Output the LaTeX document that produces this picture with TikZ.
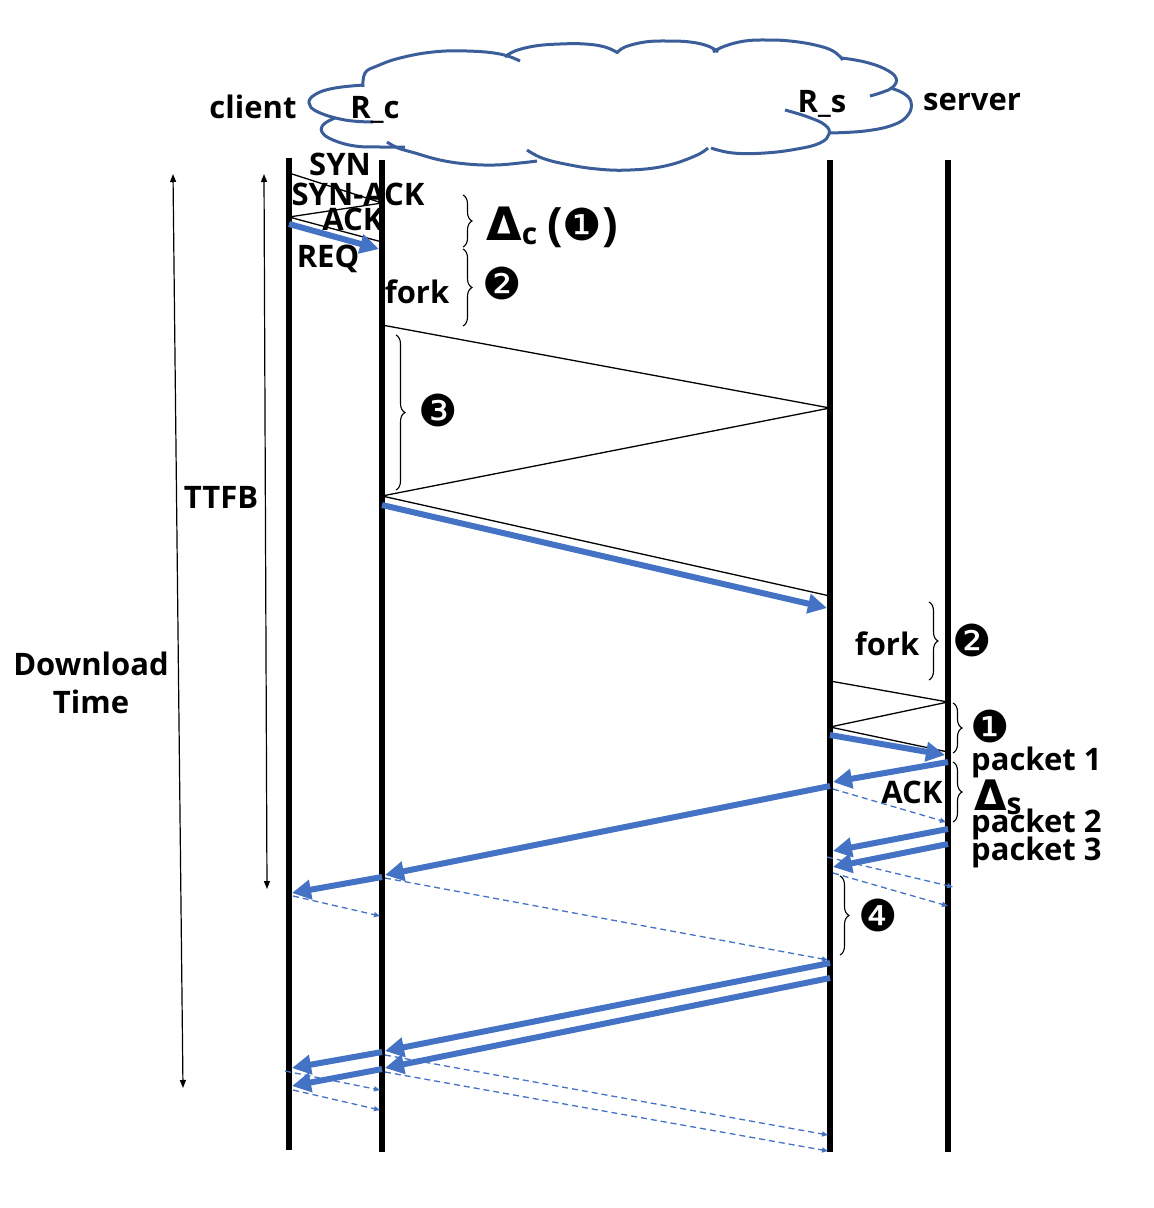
\documentclass[tikz,border=0pt]{standalone}
\usepackage{fontspec}
\setmainfont{Open Sans}
\newfontfamily\dejavu{DejaVu Sans}
\usetikzlibrary{arrows.meta,decorations.pathreplacing}
\definecolor{obl}{HTML}{4472C4}
\definecolor{cloudc}{HTML}{3B5E9A}
\tikzset{
 lbl/.style={font=\bfseries\fontsize{31}{36}\selectfont, inner sep=0, anchor=base},
 vline/.style={line width=6pt},
 thinmsg/.style={line width=1.3pt},
 bigarrow/.style={obl, line width=6pt, -{Triangle[length=19pt,width=19pt]}},
 dasharrow/.style={obl, line width=1.3pt, dash pattern=on 6pt off 4pt, -{Triangle[length=6pt,width=5pt]}},
 brc/.style={decorate, decoration={brace, amplitude=9pt}, line width=1.1pt},
 cloudline/.style={cloudc, line width=3pt},
 timearrow/.style={line width=1.2pt, {Triangle[length=8pt,width=6pt]}-{Triangle[length=8pt,width=6pt]}},
 num/.style={font=\dejavu\fontsize{44}{44}\selectfont, inner sep=0},
}
\begin{document}
\begin{tikzpicture}[x=1pt,y=-1pt]
\useasboundingbox (0,0) rectangle (1154,1208);
% lifeline x positions
\coordinate (C) at (289,0);
\coordinate (RC) at (382,0);
\coordinate (RS) at (830,0);
\coordinate (S) at (948,0);
% lifelines
\draw[vline] (C |- 0,158) -- (C |- 0,1150);
\draw[vline] (RC |- 0,160) -- (RC |- 0,1152);
\draw[vline] (RS |- 0,160) -- (RS |- 0,1152);
\draw[vline] (S |- 0,160) -- (S |- 0,1152);
% cloud
\draw[cloudline] plot[smooth,tension=0.7] coordinates {(373,122) (345,120) (318,112) (309,103) (316,94) (335,88) (364,85)};
\draw[cloudline] plot[smooth,tension=0.7] coordinates {(363,87) (365,73) (377,66) (400,58) (433,52) (467,51) (500,54) (520,61)};
\draw[cloudline] plot[smooth,tension=0.7] coordinates {(505,57) (515,51) (535,46) (560,44) (585,44) (605,47) (618,53)};
\draw[cloudline] plot[smooth,tension=0.7] coordinates {(617,53) (625,47) (645,42) (667,41) (690,42) (708,46) (718,52)};
\draw[cloudline] plot[smooth,tension=0.7] coordinates {(713,52) (725,46) (745,41) (767,40) (790,41) (815,45) (833,51) (843,60)};
\draw[cloudline] plot[smooth,tension=0.7] coordinates {(842,58) (865,62) (885,69) (896,78) (893,87) (883,92) (870,96)};
\draw[cloudline] plot[smooth,tension=0.7] coordinates {(890,88) (903,93) (911,102) (908,115) (893,125) (865,131) (830,133)};
\draw[cloudline] plot[smooth,tension=0.7] coordinates {(785,110) (808,117) (825,125) (829,134) (820,143) (797,149) (765,153) (733,153) (711,148)};
\draw[cloudline] plot[smooth,tension=0.7] coordinates {(708,148) (695,156) (665,166) (630,170) (597,169) (565,164) (542,158) (527,150)};
\draw[cloudline] plot[smooth,tension=0.7] coordinates {(537,161) (520,163) (495,165) (467,164) (440,160) (415,153) (398,148) (387,142)};
\draw[cloudline] plot[smooth,tension=0.7] coordinates {(405,147) (380,147) (355,146) (333,140) (322,132) (324,124) (335,118)};
% top labels
\node[lbl] (lclient) at (253,118) {client};
\node[lbl] (lrc) at (375,118) {R\_c};
\node[lbl] (lrs) at (822,112) {R\_s};
\node[lbl] (lserver) at (972,110) {server};
% time arrows
\coordinate (dt1) at (173,174);
\coordinate (dt2) at (183,1088);
\coordinate (tt1) at (264,174);
\coordinate (tt2) at (267,889);
\draw[timearrow] (dt1) -- (dt2);
\draw[timearrow] (tt1) -- (tt2);
\node[lbl] (lttfb) at (221,508) {TTFB};
\node[lbl] (ldl1) at (91,675) {Download};
\node[lbl] (ldl2) at (91,713) {Time};
% handshake
\draw[thinmsg] (C |- 0,173) -- (RC |- 0,203) -- (C |- 0,217) -- (RC |- 0,242);
\draw[bigarrow] (C |- 0,224) -- (379,249);
\node[lbl] (lsyn) at (340,175) {SYN};
\node[lbl] (lsynack) at (358,205) {SYN-ACK};
\node[lbl] (lack1) at (353,230) {ACK};
\node[lbl] (lreq) at (328,267) {REQ};
\node[lbl] (lfork1) at (417,303) {fork};
% braces near client side
\draw[brc] (463,195) -- (463,247);
\draw[brc] (463,249) -- (463,326);
\node[anchor=base west, inner sep=0] (ldc) at (486,240) {{\dejavu\bfseries\fontsize{46}{46}\selectfont Δ}\raisebox{-4pt}{\bfseries\fontsize{30}{30}\selectfont c}\hspace{10pt}{\bfseries\fontsize{46}{46}\selectfont (}{\dejavu\fontsize{44}{44}\selectfont ❶}{\bfseries\fontsize{46}{46}\selectfont )}};
\node[num] (n2a) at (502,283) {❷};
% R_c <-> R_s
\draw[thinmsg] (RC |- 0,325) -- (RS |- 0,408) -- (RC |- 0,496) -- (RS |- 0,596);
\draw[bigarrow] (RC |- 0,505) -- (827,608);
\draw[brc] (396,335) -- (396,490);
\node[num] (n3) at (438,410) {❸};
% server side fork
\draw[brc] (929,602) -- (929,680);
\node[lbl] (lfork2) at (887,655) {fork};
\node[num] (n2b) at (972,640) {❷};
\draw[thinmsg] (RS |- 0,681) -- (S |- 0,702) -- (RS |- 0,727) -- (S |- 0,752);
\draw[bigarrow] (RS |- 0,735) -- (945,755);
\draw[brc] (953,703) -- (953,753);
\node[num] (n1) at (990,726) {❶};
% packets
\node[lbl, anchor=base west] (lp1) at (971,770) {packet 1};
\draw[brc] (953,762) -- (953,822);
\node[anchor=base west, inner sep=0] (lds) at (974,810) {{\dejavu\bfseries\fontsize{42}{42}\selectfont Δ}\raisebox{-4pt}{\bfseries\fontsize{30}{30}\selectfont s}};
\node[lbl, anchor=base west] (lp2) at (971,832) {packet 2};
\node[lbl, anchor=base west] (lp3) at (971,860) {packet 3};
\node[lbl] (lack2) at (912,803) {ACK};
% packet 1 back
\draw[bigarrow] (S |- 0,762) -- (833,782);
\draw[bigarrow] (RS |- 0,786) -- (385,875);
\draw[bigarrow] (RC |- 0,877) -- (292,893);
\draw[dasharrow] (833,789) -- (946,822);
% packets 2 & 3
\draw[bigarrow] (S |- 0,829) -- (833,851);
\draw[bigarrow] (S |- 0,844) -- (833,867);
\draw[dasharrow] (827,857) -- (953,887);
\draw[dasharrow] (833,873) -- (948,906);
\draw[dasharrow] (293,896) -- (380,916);
\draw[dasharrow] (385,878) -- (828,960);
\draw[brc] (840,876) -- (840,955);
\node[num] (n4) at (878,915) {❹};
% forwarded packets
\draw[bigarrow] (RS |- 0,963) -- (385,1051);
\draw[bigarrow] (RS |- 0,978) -- (385,1068);
\draw[bigarrow] (RC |- 0,1052) -- (292,1068);
\draw[bigarrow] (RC |- 0,1069) -- (292,1086);
\draw[dasharrow] (285,1071) -- (380,1090);
\draw[dasharrow] (293,1090) -- (380,1110);
\draw[dasharrow] (385,1055) -- (828,1135);
\draw[dasharrow] (385,1072) -- (828,1151);
\end{tikzpicture}
\end{document}
